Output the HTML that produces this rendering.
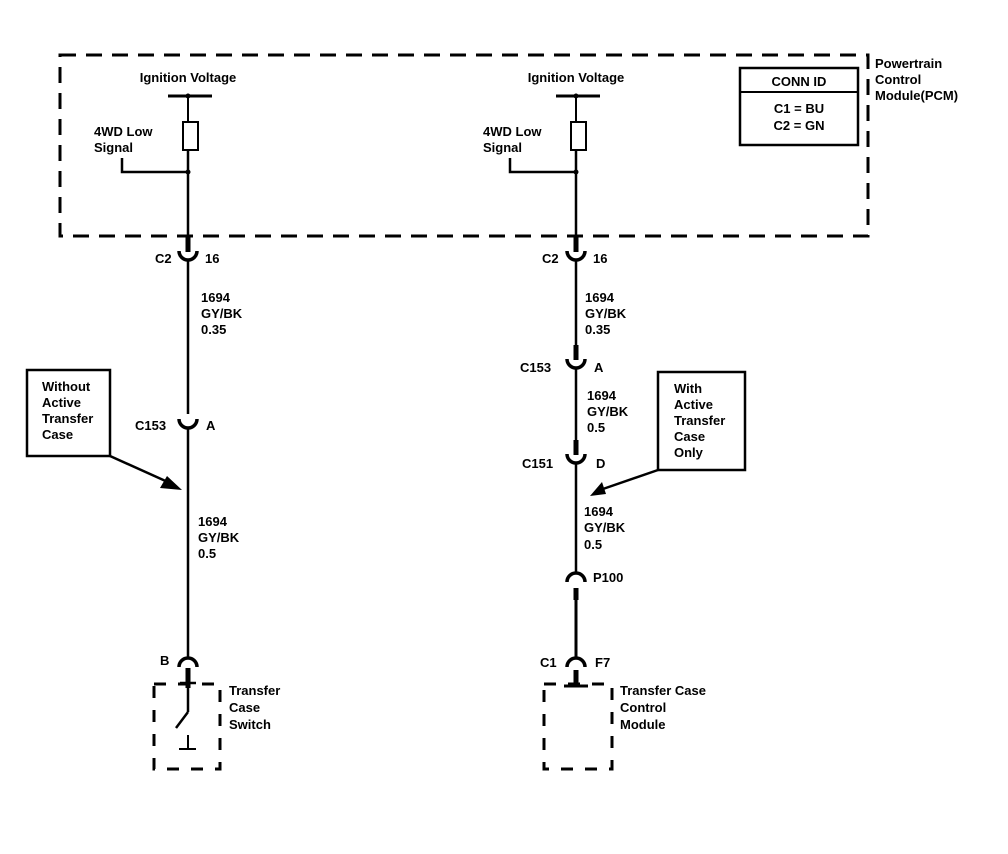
<!DOCTYPE html>
<html><head><style>body{margin:0;background:#fff}svg{display:block}text{font-family:"Liberation Sans",Arial,sans-serif;font-size:13px;font-weight:bold;fill:#000}</style></head><body>
<svg width="1008" height="854" viewBox="0 0 1008 854" xmlns="http://www.w3.org/2000/svg">
<g stroke="#000" fill="none">
<rect x="60" y="55" width="808" height="181" stroke-width="3" stroke-dasharray="16,10"/>
<!-- left -->
<line x1="168" y1="96" x2="212" y2="96" stroke-width="3"/>
<line x1="188" y1="96" x2="188" y2="122" stroke-width="2"/>
<rect x="183" y="122" width="15" height="28" stroke-width="2"/>
<line x1="188" y1="150" x2="188" y2="236" stroke-width="2.5"/>
<polyline points="122,158 122,172 188,172" stroke-width="2.5"/>
<line x1="188" y1="236" x2="188" y2="252" stroke-width="5"/>
<path d="M179,251 A9,9 0 0 0 197,251" stroke-width="3.5"/>
<line x1="188" y1="260" x2="188" y2="414" stroke-width="2.5"/>
<path d="M179,419 A9,9 0 0 0 197,419" stroke-width="3.5"/>
<line x1="188" y1="428" x2="188" y2="657" stroke-width="2.5"/>
<path d="M179,667 A9,9 0 0 1 197,667" stroke-width="3.5"/>
<line x1="188" y1="668" x2="188" y2="688" stroke-width="5"/>
<line x1="180" y1="683" x2="196" y2="683" stroke-width="2.5"/>
<line x1="188" y1="683" x2="188" y2="712" stroke-width="2.5"/>
<line x1="188" y1="712" x2="176" y2="728" stroke-width="2.5"/>
<line x1="188" y1="735" x2="188" y2="748" stroke-width="2"/>
<line x1="179" y1="749" x2="196" y2="749" stroke-width="2"/>
<rect x="154" y="684" width="66" height="85" stroke-width="3" stroke-dasharray="12,12"/>
<rect x="27" y="370" width="83" height="86" stroke-width="2.5"/>
<line x1="110" y1="456" x2="170" y2="483" stroke-width="2.5"/>
<!-- right -->
<line x1="556" y1="96" x2="600" y2="96" stroke-width="3"/>
<line x1="576" y1="96" x2="576" y2="122" stroke-width="2"/>
<rect x="571" y="122" width="15" height="28" stroke-width="2"/>
<line x1="576" y1="150" x2="576" y2="236" stroke-width="2.5"/>
<polyline points="510,158 510,172 576,172" stroke-width="2.5"/>
<line x1="576" y1="236" x2="576" y2="252" stroke-width="5"/>
<path d="M567,251 A9,9 0 0 0 585,251" stroke-width="3.5"/>
<line x1="576" y1="260" x2="576" y2="345" stroke-width="2.5"/>
<line x1="576" y1="345" x2="576" y2="360" stroke-width="5"/>
<path d="M567,359 A9,9 0 0 0 585,359" stroke-width="3.5"/>
<line x1="576" y1="368" x2="576" y2="440" stroke-width="2.5"/>
<line x1="576" y1="440" x2="576" y2="455" stroke-width="5"/>
<path d="M567,454 A9,9 0 0 0 585,454" stroke-width="3.5"/>
<line x1="576" y1="463" x2="576" y2="572" stroke-width="2.5"/>
<path d="M567,582 A9,9 0 0 1 585,582" stroke-width="3.5"/>
<line x1="576" y1="588" x2="576" y2="600" stroke-width="5"/>
<line x1="576" y1="600" x2="576" y2="657" stroke-width="3"/>
<path d="M567,667 A9,9 0 0 1 585,667" stroke-width="3.5"/>
<line x1="576" y1="670" x2="576" y2="686" stroke-width="5"/>
<line x1="564" y1="686" x2="588" y2="686" stroke-width="3"/>
<rect x="544" y="684" width="68" height="85" stroke-width="3" stroke-dasharray="12,12"/>
<rect x="658" y="372" width="87" height="98" stroke-width="2.5"/>
<line x1="658" y1="470" x2="600" y2="490" stroke-width="2.5"/>
<!-- conn id -->
<rect x="740" y="68" width="118" height="77" stroke-width="2.5"/>
<line x1="740" y1="92" x2="858" y2="92" stroke-width="2"/>
</g>
<g fill="#000">
<circle cx="188" cy="96" r="2.5"/><circle cx="188" cy="172" r="2.5"/>
<circle cx="576" cy="96" r="2.5"/><circle cx="576" cy="172" r="2.5"/>
<polygon points="182,490 160,488 167,476"/>
<polygon points="590,496 602,482 606,494"/>
</g>
<text x="188" y="82" text-anchor="middle">Ignition Voltage</text>
<text x="94" y="136">4WD Low</text><text x="94" y="152">Signal</text>
<text x="155" y="263">C2</text><text x="205" y="263">16</text>
<text x="201" y="302">1694</text><text x="201" y="318">GY/BK</text><text x="201" y="334">0.35</text>
<text x="135" y="430">C153</text><text x="206" y="430">A</text>
<text x="198" y="526">1694</text><text x="198" y="542">GY/BK</text><text x="198" y="558">0.5</text>
<text x="160" y="665">B</text>
<text x="229" y="695">Transfer</text><text x="229" y="712">Case</text><text x="229" y="729">Switch</text>
<text x="42" y="391">Without</text><text x="42" y="407">Active</text><text x="42" y="423">Transfer</text><text x="42" y="439">Case</text>
<text x="576" y="82" text-anchor="middle">Ignition Voltage</text>
<text x="483" y="136">4WD Low</text><text x="483" y="152">Signal</text>
<text x="542" y="263">C2</text><text x="593" y="263">16</text>
<text x="585" y="302">1694</text><text x="585" y="318">GY/BK</text><text x="585" y="334">0.35</text>
<text x="520" y="372">C153</text><text x="594" y="372">A</text>
<text x="587" y="400">1694</text><text x="587" y="416">GY/BK</text><text x="587" y="432">0.5</text>
<text x="522" y="468">C151</text><text x="596" y="468">D</text>
<text x="674" y="393">With</text><text x="674" y="409">Active</text><text x="674" y="425">Transfer</text><text x="674" y="441">Case</text><text x="674" y="457">Only</text>
<text x="584" y="516">1694</text><text x="584" y="532">GY/BK</text><text x="584" y="549">0.5</text>
<text x="593" y="582">P100</text>
<text x="540" y="667">C1</text><text x="595" y="667">F7</text>
<text x="620" y="695">Transfer Case</text><text x="620" y="712">Control</text><text x="620" y="729">Module</text>
<text x="799" y="86" text-anchor="middle">CONN ID</text>
<text x="799" y="113" text-anchor="middle">C1 = BU</text>
<text x="799" y="130" text-anchor="middle">C2 = GN</text>
<text x="875" y="68">Powertrain</text><text x="875" y="84">Control</text><text x="875" y="100">Module(PCM)</text>
</svg>
</body></html>
